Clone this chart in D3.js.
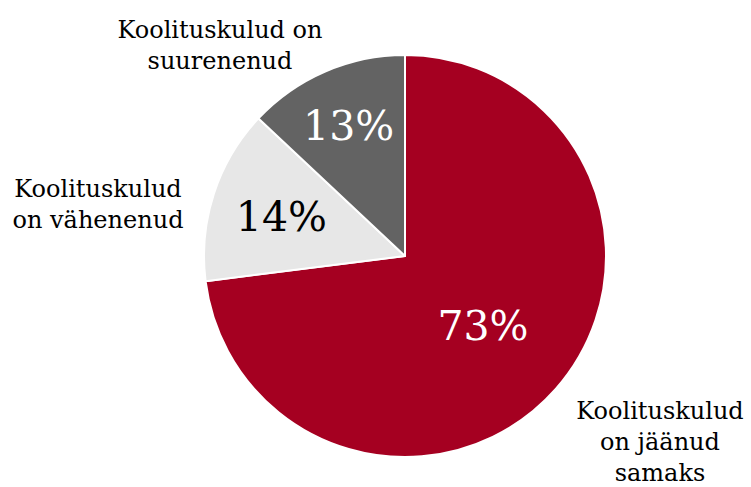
<!DOCTYPE html>
<html><head><meta charset="utf-8">
<script src="https://cdn.jsdelivr.net/npm/d3@7"></script>
<style>html,body{margin:0;padding:0;background:#fff;}svg{display:block;}</style>
</head><body>
<script>
const categories = ["Koolituskulud on jäänud samaks", "Koolituskulud on vähenenud", "Koolituskulud on suurenenud"];
const values = [73, 14, 13];
const valueLabels = ["73%", "14%", "13%"];
const categoryLines = [["Koolituskulud", "on jäänud", "samaks"], ["Koolituskulud", "on vähenenud"], ["Koolituskulud on", "suurenenud"]];

const W = 751, H = 487;
const cx = 405, cy = 256, R = 201;
const colors = ["#A50021", "#E7E7E7", "#636363"];
const valueColors = ["#ffffff", "#000000", "#ffffff"];
const labelR = [104, 130, 142];
const font = "'DejaVu Serif', Georgia, serif";

const svg = d3.select("body").append("svg").attr("width", W).attr("height", H);
const g = svg.append("g").attr("transform", `translate(${cx},${cy})`);

const pie = d3.pie().sort(null).value(d => d)(values);
const arc = d3.arc().innerRadius(0).outerRadius(R);

g.selectAll("path.slice").data(pie).join("path")
  .attr("class", "slice")
  .attr("d", arc)
  .attr("fill", (d, i) => colors[i])
  .attr("stroke", "#fff").attr("stroke-width", 2).attr("stroke-linejoin", "round");

g.selectAll("text.val").data(pie).join("text")
  .attr("class", "val")
  .attr("transform", (d, i) => {
    const a = d3.arc().innerRadius(labelR[i]).outerRadius(labelR[i]);
    const [x, y] = a.centroid(d);
    return `translate(${x},${y})`;
  })
  .attr("text-anchor", "middle")
  .attr("dy", "0.36em")
  .attr("font-family", font)
  .attr("font-size", 41)
  .attr("fill", (d, i) => valueColors[i])
  .text((d, i) => valueLabels[i]);

// outer category labels
const catPos = [
  {x: 660, y: 419, anchor: "middle"},
  {x: 98, y: 197, anchor: "middle"},
  {x: 220, y: 38, anchor: "middle"}
];
const lineH = 31;
categoryLines.forEach((lines, i) => {
  const t = svg.append("text")
    .attr("x", catPos[i].x).attr("y", catPos[i].y)
    .attr("text-anchor", catPos[i].anchor)
    .attr("font-family", font)
    .attr("font-size", 24)
    .attr("fill", "#000");
  lines.forEach((ln, j) => {
    t.append("tspan").attr("x", catPos[i].x).attr("y", catPos[i].y + j * lineH).text(ln);
  });
});
</script>
</body></html>
